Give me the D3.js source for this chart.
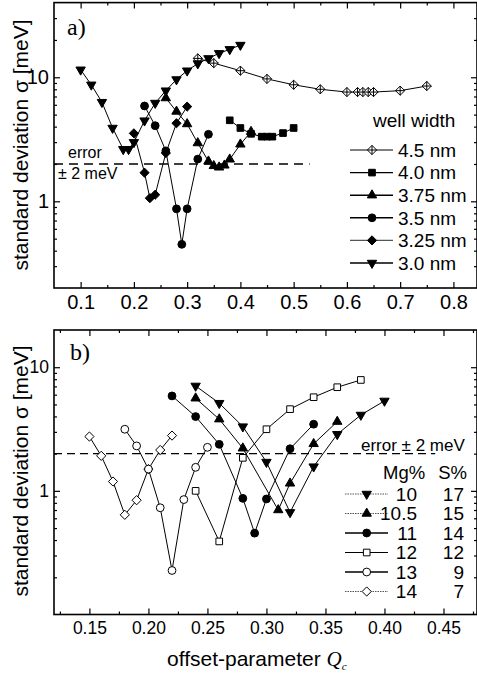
<!DOCTYPE html>
<html>
<head>
<meta charset="utf-8">
<script src="https://cdn.jsdelivr.net/npm/d3@7"></script>
<style>
  body { margin: 0; background: #fff; }
  svg { display: block; font-family: Arial, "Liberation Sans", sans-serif; }
</style>
</head>
<body>
<div id="svg-container"></div>
<script>
////////////////////////////////////////////////////////////////////
////////////////////////////  Data  ////////////////////////////////
// panel a) : well widths
const wellLabels = ["4.5 nm", "4.0 nm", "3.75 nm", "3.5 nm", "3.25 nm", "3.0 nm"];
const q45 = [0.32, 0.35, 0.40, 0.45, 0.50, 0.55, 0.60, 0.62, 0.63, 0.64, 0.65, 0.70, 0.75];
const s45 = [14.2, 13.0, 11.3, 9.7, 8.7, 8.0, 7.6, 7.6, 7.6, 7.6, 7.6, 7.8, 8.5];
const q40 = [0.38, 0.40, 0.42, 0.44, 0.45, 0.46, 0.48, 0.50];
const s40 = [4.5, 3.9, 3.5, 3.32, 3.32, 3.32, 3.55, 3.9];
const q375 = [0.26, 0.28, 0.30, 0.32, 0.34, 0.35, 0.36, 0.37, 0.38, 0.40, 0.42];
const s375 = [6.8, 5.3, 4.2, 2.95, 2.1, 1.93, 1.88, 1.95, 2.18, 2.88, 3.64];
const q35 = [0.22, 0.24, 0.26, 0.28, 0.29, 0.30, 0.32, 0.34];
const s35 = [5.87, 4.07, 2.55, 0.87, 0.45, 0.87, 2.19, 3.47];
const q325 = [0.20, 0.22, 0.23, 0.24, 0.26, 0.28, 0.30];
const s325 = [3.53, 1.70, 1.06, 1.13, 2.45, 4.26, 5.8];
const q30 = [0.10, 0.12, 0.14, 0.16, 0.18, 0.19, 0.20, 0.22, 0.24, 0.26, 0.28, 0.30, 0.32, 0.34, 0.36, 0.38, 0.40];
const s30 = [11.5, 8.7, 6.3, 3.9, 2.63, 2.63, 2.99, 4.47, 6.2, 7.8, 9.6, 11.3, 12.9, 14.2, 15.6, 16.8, 18.2];

// panel b) : Mg% / S%
const mgLabels = ["10", "10.5", "11", "12", "13", "14"];
const sLabels = ["17", "15", "14", "12", "9", "7"];
const qMg10 = [0.24, 0.26, 0.28, 0.30, 0.32, 0.34, 0.36, 0.38, 0.40];
const sMg10 = [7.06, 5.12, 3.31, 1.71, 0.67, 1.57, 2.87, 4.11, 5.34];
const qMg105 = [0.24, 0.26, 0.28, 0.31, 0.32, 0.34, 0.36];
const sMg105 = [5.61, 3.8, 2.21, 0.70, 1.15, 2.4, 3.63];
const qMg11 = [0.22, 0.24, 0.26, 0.28, 0.29, 0.30, 0.32, 0.34];
const sMg11 = [5.86, 3.99, 2.38, 0.87, 0.455, 0.86, 2.19, 3.46];
const qMg12 = [0.24, 0.26, 0.28, 0.30, 0.32, 0.34, 0.36, 0.38];
const sMg12 = [1.0, 0.39, 1.85, 3.15, 4.58, 5.72, 6.89, 7.89];
const qMg13 = [0.18, 0.19, 0.20, 0.21, 0.22, 0.23, 0.24, 0.25];
const sMg13 = [3.15, 2.31, 1.5, 0.73, 0.227, 0.85, 1.55, 2.25];
const qMg14 = [0.15, 0.16, 0.17, 0.18, 0.19, 0.20, 0.21, 0.22];
const sMg14 = [2.75, 1.92, 1.19, 0.64, 0.84, 1.5, 2.14, 2.8];

// ticks
const xTicksA = [0.1, 0.2, 0.3, 0.4, 0.5, 0.6, 0.7, 0.8];
const xMinorA = [0.15, 0.25, 0.35, 0.45, 0.55, 0.65, 0.75];
const xTicksB = [0.15, 0.20, 0.25, 0.30, 0.35, 0.40, 0.45];
const xMinorB = [0.125, 0.175, 0.225, 0.275, 0.325, 0.375, 0.425, 0.475];
const yTicks = [1, 10];
const errorLevel = 2;

////////////////////////////////////////////////////////////////////
////////////////////////////  Init  ////////////////////////////////
const width = 477, height = 677;
const svg = d3.select("#svg-container").append("svg")
  .attr("width", width).attr("height", height);

const xA = d3.scaleLinear().domain([0.05, 0.8443]).range([54, 477]);
const yA = d3.scaleLog().domain([0.2, 40]).range([288, 2.6]);
const xB = d3.scaleLinear().domain([0.12, 0.4784]).range([54, 477]);
const yB = d3.scaleLog().domain([0.1, 20]).range([614.5, 330]);

// marker shapes
const diamond = (r) => `M0,${-r}L${r},0L0,${r}L${-r},0Z`;
const shapes = {
  down: { d: d3.symbol(d3.symbolTriangle, 38)(), rot: 180 },
  up: { d: d3.symbol(d3.symbolTriangle, 38)(), rot: 0 },
  circle: { d: d3.symbol(d3.symbolCircle, 48)(), rot: 0 },
  square: { d: d3.symbol(d3.symbolSquare, 44)(), rot: 0 },
  diamond: { d: diamond(4.6), rot: 0 },
  xdiamond: { d: diamond(4.6) + "M-4.6,0L4.6,0M0,-4.6L0,4.6", rot: 0 },
};

function drawMarker(g, type, fill, x, y) {
  g.append("path")
    .attr("transform", `translate(${x},${y}) rotate(${shapes[type].rot})`)
    .attr("d", shapes[type].d)
    .attr("fill", fill)
    .attr("stroke", "#000")
    .attr("stroke-width", 1);
}

function drawSeries(g, x, y, qs, ss, type, fill) {
  const pts = qs.map((q, i) => [q, ss[i]]);
  g.append("path")
    .datum(pts)
    .attr("fill", "none")
    .attr("stroke", "#000")
    .attr("stroke-width", 1)
    .attr("d", d3.line().x((d) => x(d[0])).y((d) => y(d[1])));
  pts.forEach((d) => drawMarker(g, type, fill, x(d[0]), y(d[1])));
}

function logMinors(y) {
  const [lo, hi] = y.domain();
  const out = [];
  for (let e = -2; e <= 2; e++) {
    for (let k = 2; k <= 9; k++) {
      const v = k * Math.pow(10, e);
      if (v > lo * 1.001 && v < hi * 0.999) out.push(v);
    }
  }
  return out;
}

function drawFrame(x, y, xMajor, xMinor, xFmt, fontSize) {
  const [x0, x1] = x.range();
  const [y0, y1] = y.range();
  const g = svg.append("g");

  // bottom
  g.append("g").attr("transform", `translate(0,${y0})`)
    .call(d3.axisBottom(x).tickValues(xMajor).tickFormat(xFmt).tickSize(-6).tickPadding(7))
    .call((a) => a.selectAll("text").attr("font-size", fontSize).attr("fill", "#000"));
  g.append("g").attr("transform", `translate(0,${y0})`)
    .call(d3.axisBottom(x).tickValues(xMinor).tickFormat("").tickSize(-3));
  // top
  g.append("g").attr("transform", `translate(0,${y1})`)
    .call(d3.axisTop(x).tickValues(xMajor).tickFormat("").tickSize(-6));
  g.append("g").attr("transform", `translate(0,${y1})`)
    .call(d3.axisTop(x).tickValues(xMinor).tickFormat("").tickSize(-3));
  // left
  g.append("g").attr("transform", `translate(${x0},0)`)
    .call(d3.axisLeft(y).tickValues(yTicks).tickFormat(d3.format("d")).tickSize(-6).tickPadding(5))
    .call((a) => a.selectAll("text").attr("font-size", fontSize).attr("fill", "#000"));
  g.append("g").attr("transform", `translate(${x0},0)`)
    .call(d3.axisLeft(y).tickValues(logMinors(y)).tickFormat("").tickSize(-3));
  // right
  g.append("g").attr("transform", `translate(${x1},0)`)
    .call(d3.axisRight(y).tickValues(yTicks).tickFormat("").tickSize(-6));
  g.append("g").attr("transform", `translate(${x1},0)`)
    .call(d3.axisRight(y).tickValues(logMinors(y)).tickFormat("").tickSize(-3));

  g.selectAll(".domain").remove();
  g.selectAll(".tick line").attr("stroke", "#000").attr("stroke-width", 1.2);

  g.append("rect")
    .attr("x", x0).attr("y", y1)
    .attr("width", x1 - x0).attr("height", y0 - y1)
    .attr("fill", "none").attr("stroke", "#000").attr("stroke-width", 1.6);
  return g;
}

////////////////////////////////////////////////////////////////////
////////////////////////////  Panel a  /////////////////////////////
drawFrame(xA, yA, xTicksA, xMinorA, d3.format(".1f"), 20);
const gA = svg.append("g");

// error line
gA.append("line")
  .attr("x1", xA.range()[0]).attr("x2", xA(0.53))
  .attr("y1", yA(errorLevel)).attr("y2", yA(errorLevel))
  .attr("stroke", "#000").attr("stroke-width", 1.6).attr("stroke-dasharray", "9,6");
gA.append("text").attr("x", 68).attr("y", yA(errorLevel) - 6)
  .attr("font-size", 16).text("error");
gA.append("text").attr("x", 58).attr("y", yA(errorLevel) + 15)
  .attr("font-size", 16).text("± 2 meV");

const seriesA = [
  [q45, s45, "xdiamond", "#fff"],
  [q40, s40, "square", "#000"],
  [q375, s375, "up", "#000"],
  [q35, s35, "circle", "#000"],
  [q325, s325, "diamond", "#000"],
  [q30, s30, "down", "#000"],
];
seriesA.forEach((s) => drawSeries(gA, xA, yA, s[0], s[1], s[2], s[3]));

gA.append("text").attr("x", 67).attr("y", 35)
  .attr("font-family", "'Liberation Serif', 'DejaVu Serif', serif")
  .attr("font-size", 24).text("a)");

// legend a
const legA = svg.append("g");
legA.append("text").attr("x", 373).attr("y", 127).attr("font-size", 19).text("well width");
wellLabels.forEach((lab, i) => {
  const yy = 150 + i * 22.6;
  legA.append("line").attr("x1", 350).attr("x2", 393).attr("y1", yy).attr("y2", yy)
    .attr("stroke", i === 4 ? "#555" : "#000")
    .attr("stroke-width", i === 0 ? 1 : 1.4);
  drawMarker(legA, seriesA[i][2], seriesA[i][3], 372, yy);
  legA.append("text").attr("x", 398).attr("y", yy).attr("dy", "0.36em")
    .attr("font-size", 19).text(lab);
});

svg.append("text")
  .attr("transform", `translate(28,145) rotate(-90)`)
  .attr("text-anchor", "middle").attr("font-size", 21)
  .text("standard deviation σ [meV]");

////////////////////////////////////////////////////////////////////
////////////////////////////  Panel b  /////////////////////////////
drawFrame(xB, yB, xTicksB, xMinorB, d3.format(".2f"), 17.5);
const gB = svg.append("g");

gB.append("line")
  .attr("x1", xB.range()[0]).attr("x2", xB(0.443))
  .attr("y1", yB(errorLevel)).attr("y2", yB(errorLevel))
  .attr("stroke", "#000").attr("stroke-width", 1.1).attr("stroke-dasharray", "8,5");
gB.append("text").attr("x", 361).attr("y", yB(errorLevel) - 3)
  .attr("font-size", 17).text("error ± 2 meV");

const seriesB = [
  [qMg10, sMg10, "down", "#000"],
  [qMg105, sMg105, "up", "#000"],
  [qMg11, sMg11, "circle", "#000"],
  [qMg12, sMg12, "square", "#fff"],
  [qMg13, sMg13, "circle", "#fff"],
  [qMg14, sMg14, "diamond", "#fff"],
];
// open symbols behind the filled ones
[5, 4, 3, 2, 1, 0].forEach((i) => {
  const s = seriesB[i];
  drawSeries(gB, xB, yB, s[0], s[1], s[2], s[3]);
});

gB.append("text").attr("x", 70).attr("y", 360)
  .attr("font-family", "'Liberation Serif', 'DejaVu Serif', serif")
  .attr("font-size", 24).text("b)");

// legend b
const legB = svg.append("g");
legB.append("text").attr("x", 383).attr("y", 479).attr("font-size", 18.5).text("Mg%");
legB.append("text").attr("x", 467).attr("y", 479).attr("text-anchor", "end")
  .attr("font-size", 18.5).text("S%");
mgLabels.forEach((lab, i) => {
  const yy = 494 + i * 19.5;
  const dotted = i === 0 || i === 1 || i === 5;
  legB.append("line").attr("x1", 345).attr("x2", 388).attr("y1", yy).attr("y2", yy)
    .attr("stroke", dotted ? "#555" : "#000")
    .attr("stroke-width", i === 2 || i === 4 ? 1.6 : 1)
    .attr("stroke-dasharray", dotted ? "1.5,1" : null);
  drawMarker(legB, seriesB[i][2], seriesB[i][3], 366.7, yy);
  legB.append("text").attr("x", 417).attr("y", yy).attr("dy", "0.36em")
    .attr("text-anchor", "end").attr("font-size", 19).text(lab);
  legB.append("text").attr("x", 464).attr("y", yy).attr("dy", "0.36em")
    .attr("text-anchor", "end").attr("font-size", 19).text(sLabels[i]);
});

svg.append("text")
  .attr("transform", `translate(28,471) rotate(-90)`)
  .attr("text-anchor", "middle").attr("font-size", 21)
  .text("standard deviation σ [meV]");

const xt = svg.append("text").attr("x", 167).attr("y", 666).attr("font-size", 21);
xt.append("tspan").text("offset-parameter ");
xt.append("tspan")
  .attr("font-family", "'Liberation Serif', 'DejaVu Serif', serif")
  .attr("font-style", "italic").text("Q");
xt.append("tspan").attr("font-size", 11).attr("dy", 4)
  .attr("font-family", "'Liberation Serif', 'DejaVu Serif', serif")
  .attr("font-style", "italic").text("c");
</script>
</body>
</html>
